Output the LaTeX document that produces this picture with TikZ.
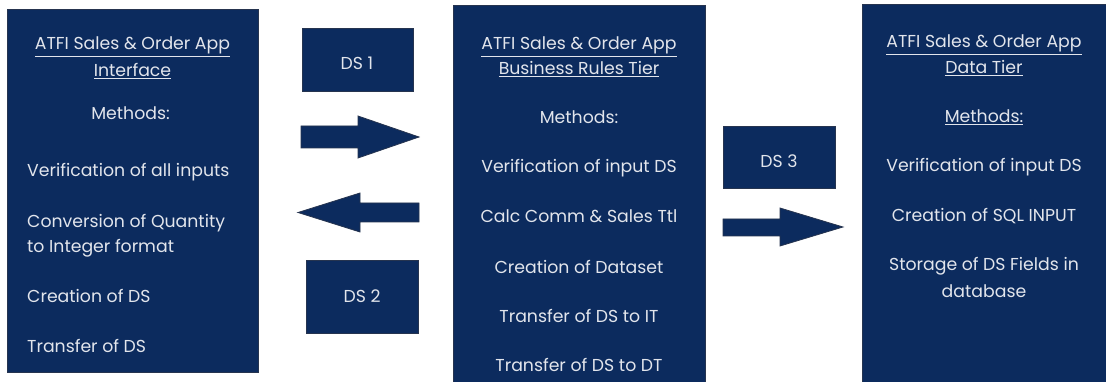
\documentclass[tikz,border=0pt]{standalone}
\usepackage{fontspec}
\setmainfont{Poppins}
\definecolor{navy}{HTML}{0C2B5E}
\definecolor{edge}{HTML}{26344F}
\definecolor{txt}{HTML}{E2E5EC}
\begin{document}
\begin{tikzpicture}[x=1pt,y=-1pt,
  box/.style={fill=navy,draw=edge,line width=1pt,inner sep=0pt},
  lbl/.style={text=txt,font=\fontsize{17.3}{19}\selectfont,inner sep=0pt,anchor=base},
  lbll/.style={lbl,anchor=base west},
  fat/.style={fill=navy,draw=edge,line width=0.8pt,line join=miter}]
\useasboundingbox (0,0) rectangle (1106,382);
% big boxes
\path[box] (7,10) rectangle (258,372);
\node (L) at (132.5,191) {};
\path[box] (453,6) rectangle (705,386);
\node (M) at (579,191) {};
\path[box] (862,5) rectangle (1106,386);
\node (R) at (984,191) {};
% DS boxes
\path[box] (302,29) rectangle (413,92);
\node[lbl] (ds1) at (357,70) {DS 1};
\path[box] (306,261) rectangle (418,333);
\node[lbl] (ds2) at (362,302) {DS 2};
\path[box] (723,127) rectangle (835,189);
\node[lbl] (ds3) at (779,168) {DS 3};
% arrows
\path[fat] (301,126) -- (358,126) -- (358,116) -- (419,137) -- (358,158) -- (358,148) -- (301,148) -- cycle;
\path[fat] (419,203) -- (360,203) -- (360,193) -- (298,212.5) -- (360,232) -- (360,222) -- (419,222) -- cycle;
\path[fat] (723,219) -- (780,219) -- (780,208) -- (843,227) -- (780,246) -- (780,236) -- (723,236) -- cycle;
% left box text
\node[lbl] (l1) at (132.5,50) {\underline{ATFI Sales \& Order App}};
\node[lbl] (l2) at (132.5,77) {\underline{Interface}};
\node[lbl] (l3) at (130.5,120) {Methods:};
\node[lbll] (l4) at (27,177) {Verification of all inputs};
\node[lbll] (l5) at (27,228) {Conversion of Quantity};
\node[lbll] (l6) at (27,253) {to Integer format};
\node[lbll] (l7) at (27,302) {Creation of DS};
\node[lbll] (l8) at (27,352) {Transfer of DS};
% middle box text
\node[lbl] (m1) at (579,50) {\underline{ATFI Sales \& Order App}};
\node[lbl] (m2) at (579,75) {\underline{Business Rules Tier}};
\node[lbl] (m3) at (579,124) {Methods:};
\node[lbl] (m4) at (579,173) {Verification of input DS};
\node[lbl] (m5) at (579,223) {Calc Comm \& Sales Ttl};
\node[lbl] (m6) at (579,273) {Creation of Dataset};
\node[lbl] (m7) at (579,322) {Transfer of DS to IT};
\node[lbl] (m8) at (579,371) {Transfer of DS to DT};
% right box text
\node[lbl] (r1) at (984,48) {\underline{ATFI Sales \& Order App}};
\node[lbl] (r2) at (984,74) {\underline{Data Tier}};
\node[lbl] (r3) at (984,123) {\underline{Methods:}};
\node[lbl] (r4) at (984,172) {Verification of input DS};
\node[lbl] (r5) at (984,222) {Creation of SQL INPUT};
\node[lbl] (r6) at (984,270) {Storage of DS Fields in};
\node[lbl] (r7) at (984,297) {database};
\end{tikzpicture}
\end{document}
